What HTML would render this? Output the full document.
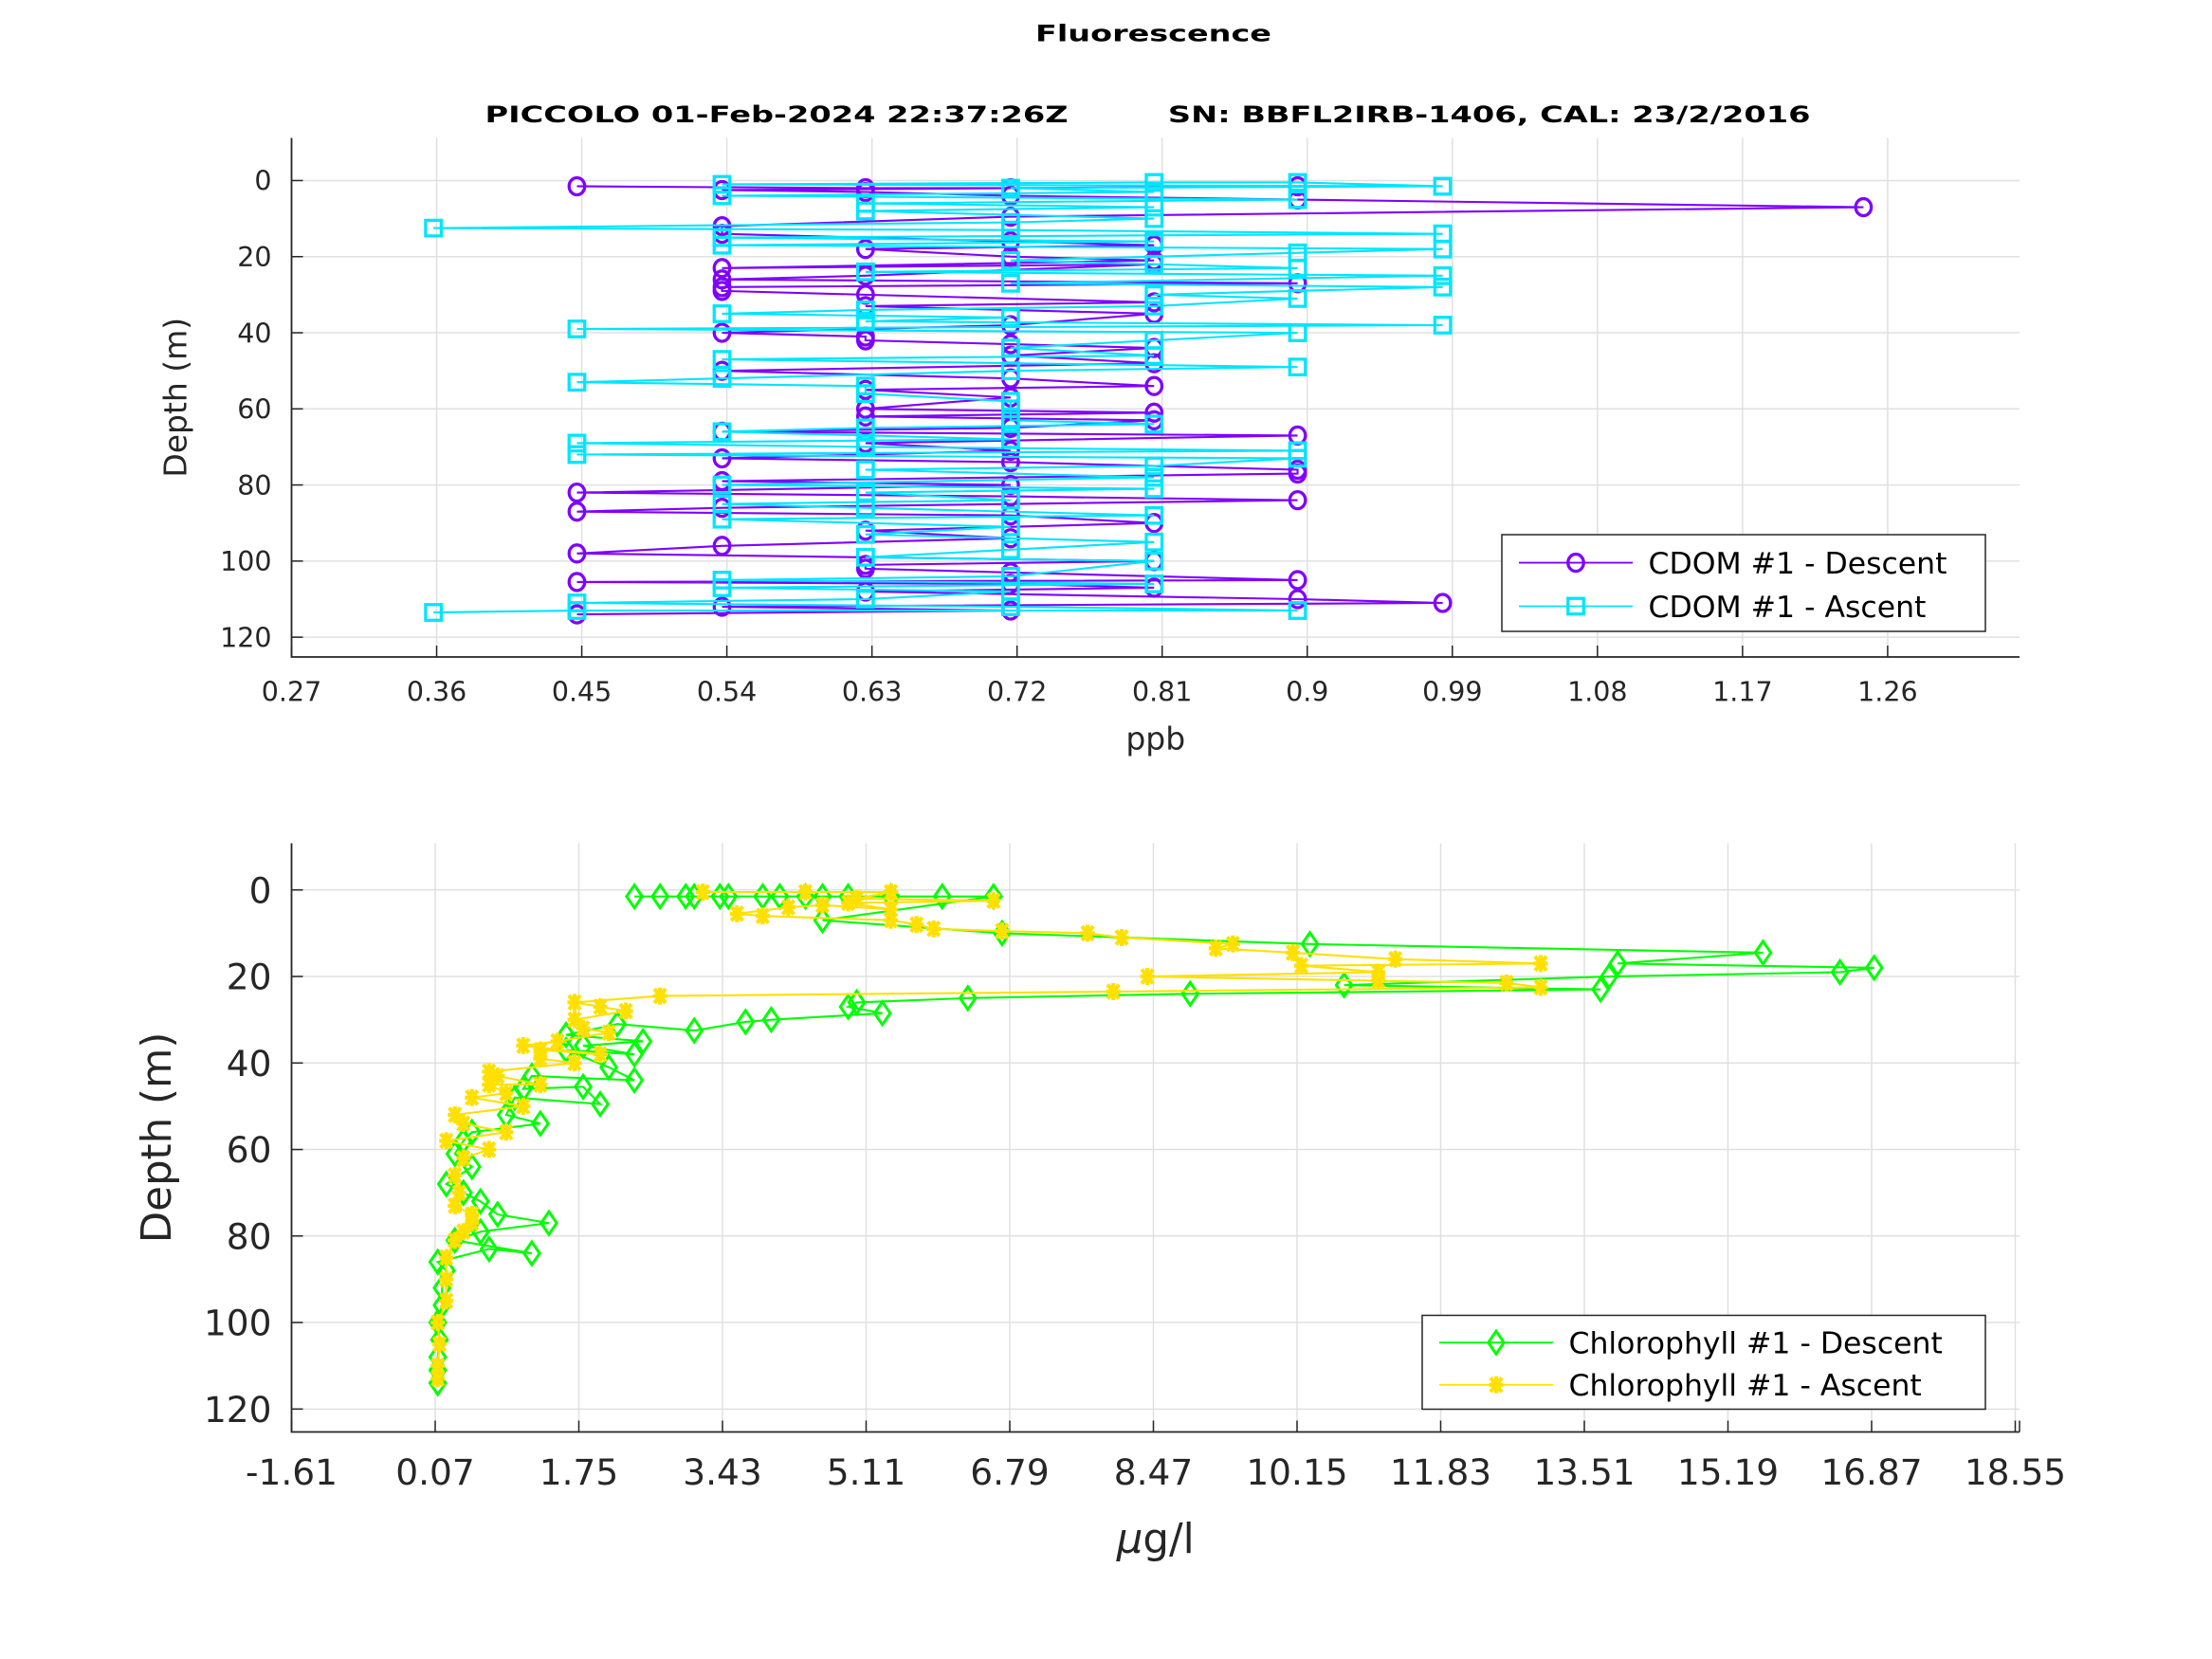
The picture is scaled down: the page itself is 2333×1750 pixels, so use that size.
<!DOCTYPE html>
<html><head><meta charset="utf-8"><style>
html,body{margin:0;padding:0;background:#fff}
svg{display:block;font-family:"DejaVu Sans","Liberation Sans",sans-serif}
</style></head><body>
<svg id="fig" width="2333" height="1750" viewBox="0 0 1555.33 1166.67" xmlns="http://www.w3.org/2000/svg">
<rect width="1555.33" height="1166.67" fill="#fff"/>
<text x="811" y="29" text-anchor="middle" font-size="16" font-weight="bold" textLength="166" lengthAdjust="spacingAndGlyphs">Fluorescence</text>
<text x="341" y="86" font-size="16" font-weight="bold" xml:space="preserve" textLength="932" lengthAdjust="spacingAndGlyphs">PICCOLO 01-Feb-2024 22:37:26Z         SN: BBFL2IRB-1406, CAL: 23/2/2016</text>
<g id="topchart"></g>
<g id="botchart"></g>
</svg>
<script>
// CDOM data (depth m, ppb)
const cdomDescDepth=[1.5,2,2,1.5,2.5,3,4,5,7,9.5,12,14,16,17,18,20,21,23,22,25,26,27,28,29,30,32,33,35,38,40,41,42,43,44,46,48,50,52,54,55,57,60,61,62,63,65,66,67,69,71,73,74,76,77,79,80,82,83,84,86,87,88,90,92,94,96,98,100,101,102,103,105,105.5,106,107,108,110,111,112,113,114];
const cdomDescVal=[0.447,0.626,0.716,0.894,0.537,0.626,0.716,0.894,1.245,0.716,0.537,0.537,0.716,0.805,0.626,0.716,0.805,0.537,0.805,0.626,0.537,0.894,0.537,0.537,0.626,0.805,0.626,0.805,0.716,0.537,0.626,0.626,0.716,0.805,0.716,0.805,0.537,0.716,0.805,0.626,0.716,0.626,0.805,0.626,0.805,0.716,0.537,0.894,0.626,0.716,0.537,0.716,0.894,0.894,0.537,0.716,0.447,0.716,0.894,0.537,0.447,0.716,0.805,0.626,0.716,0.537,0.447,0.805,0.626,0.626,0.716,0.894,0.447,0.716,0.805,0.626,0.894,0.984,0.537,0.716,0.447];
const cdomAscDepth=[113.5,113,113,112,111,110,108,107,106,105,104,100,99,97,95,93,91,89,88,86,85,84,82,81,80,78,76,75,73,72,71,70,69,68,66,65,64,63,60,58,56,54,53,52,50,49,47,46,44,42,40,39,38,37,36,35,34,33,31,30,28,27,25,24,23,22,21,19,18,17,16,15,14,13,12.5,11,10,8,7,6,5,4,3,2,1.5,1,0.5,0.5,1.5];
const cdomAscVal=[0.358,0.447,0.894,0.716,0.447,0.626,0.716,0.537,0.805,0.537,0.716,0.805,0.626,0.716,0.805,0.626,0.716,0.537,0.805,0.626,0.537,0.716,0.626,0.805,0.537,0.805,0.626,0.805,0.894,0.447,0.894,0.626,0.447,0.716,0.537,0.626,0.805,0.716,0.716,0.716,0.626,0.626,0.447,0.537,0.716,0.894,0.537,0.805,0.716,0.805,0.894,0.447,0.984,0.626,0.716,0.537,0.626,0.805,0.894,0.805,0.984,0.716,0.984,0.626,0.894,0.805,0.716,0.894,0.984,0.537,0.805,0.537,0.984,0.716,0.358,0.716,0.805,0.626,0.805,0.626,0.894,0.537,0.805,0.716,0.984,0.537,0.805,0.894,0.984];
const cdomXTicks=["0.27","0.36","0.45","0.54","0.63","0.72","0.81","0.9","0.99","1.08","1.17","1.26"];
// Chlorophyll data (depth m, ug/l)
const chlDescDepth=[1.5,1.5,1.5,1.5,1.5,1.5,1.5,1.5,1.5,1.5,1.5,1.5,1.5,1.5,7,10,12.5,14.5,17,18,19,20,22,23,24,25,26,27,28.5,30,30.5,32.5,31,33.5,35,36,38,37,41,44,43,46,45.5,49.5,48,52,54,56,58,61,64,68,70,72,75,77,79,81,84,83,86,88,92,96,100,104,108,111,114];
const chlDescVal=[2.4,2.7,3.0,3.1,3.4,3.5,3.9,4.1,4.4,4.6,4.9,5.4,6.0,6.6,4.6,6.7,10.3,15.6,13.9,16.9,16.5,13.8,10.7,13.7,8.9,6.3,5.0,4.9,5.3,4.0,3.7,3.1,2.2,1.6,2.5,1.8,2.4,1.6,2.1,2.4,1.2,1.1,1.8,2.0,1.0,0.9,1.3,0.5,0.4,0.3,0.5,0.2,0.4,0.6,0.8,1.4,0.6,0.3,1.2,0.7,0.1,0.2,0.15,0.15,0.1,0.12,0.1,0.1,0.1];
const chlAscDepth=[113,110,105,100,95,90,85,81,79,77,75,73,70,66,62,60,58,56,54,52,50,48,47,45,45,43,42,40,39,37,38,36,35,33,32,30,28,27,26,24.5,23.5,22.5,21.5,21,20,19,17.5,17,16,14.5,13.5,12.5,11,10,9.5,9,8,7,6,5.5,4,3.5,4.5,3,2.5,2,0.5,0.5,0.5];
const chlAscVal=[0.1,0.1,0.12,0.1,0.2,0.2,0.2,0.3,0.4,0.5,0.5,0.3,0.35,0.3,0.4,0.7,0.2,0.9,0.4,0.3,1.1,0.5,0.9,0.7,1.3,0.8,0.7,1.7,1.3,1.3,2.0,1.1,1.5,2.1,1.8,1.7,2.3,2.0,1.7,2.7,8.0,13.0,12.6,11.1,8.4,11.1,10.2,13.0,11.3,10.1,9.2,9.4,8.1,7.7,6.7,5.9,5.7,5.4,3.9,3.6,4.2,4.6,5.4,4.9,6.6,5.0,5.4,4.4,3.2];
const chlXTicks=["-1.61","0.07","1.75","3.43","5.11","6.79","8.47","10.15","11.83","13.51","15.19","16.87","18.55"];
const yTickVals=[0,20,40,60,80,100,120];

const NS="http://www.w3.org/2000/svg";
function mk(p,t,a){const e=document.createElementNS(NS,t);for(const k in a)e.setAttribute(k,a[k]);p.appendChild(e);return e;}

function axes(g,o){
  const X=v=>o.L+(v-o.x0)/(o.x1-o.x0)*(o.R-o.L);
  const Y=v=>o.T+(v-o.y0)/(o.y1-o.y0)*(o.B-o.T);
  o.xt.forEach(s=>{const x=X(parseFloat(s));
    const l=mk(g,'line',{x1:x,x2:x,y1:o.T,y2:o.B,stroke:'#e0e0e0','stroke-width':1});
    
    
    const tk=mk(g,'line',{x1:x,x2:x,y1:o.B,y2:o.B-8,stroke:'#262626','stroke-width':1});
    
    
    const t=mk(g,'text',{x:x,y:o.B+o.fs+12,'text-anchor':'middle','font-size':o.fs,fill:'#262626'});t.textContent=s;
    
    
  });
  yTickVals.forEach(v=>{const y=Y(v);
    const l=mk(g,'line',{x1:o.L,x2:o.R,y1:y,y2:y,stroke:'#e0e0e0','stroke-width':1});
    
    
    const tk=mk(g,'line',{x1:o.L,x2:o.L+8,y1:y,y2:y,stroke:'#262626','stroke-width':1});
    
    
    const t=mk(g,'text',{x:o.L-14,y:y+o.fs*0.36,'text-anchor':'end','font-size':o.fs,fill:'#262626'});t.textContent=v;
    
    
  });
  const ax=mk(g,'path',{d:`M${o.L},${o.T}V${o.B}H${o.R}`,fill:'none',stroke:'#262626','stroke-width':1.2});
  
  
  if(o.rtick){const r=mk(g,'line',{x1:o.R,x2:o.R,y1:o.B,y2:o.B-8,stroke:'#262626'});}
  const xl=mk(g,'text',{x:(o.L+o.R)/2,y:o.xly,'text-anchor':'middle','font-size':o.lfs,fill:'#262626'});xl.innerHTML=o.xlab;
  
  
  const yl=mk(g,'text',{x:0,y:0,transform:`translate(${o.ylx},${(o.T+o.B)/2}) rotate(-90)`,'text-anchor':'middle','font-size':o.lfs,fill:'#262626'});yl.textContent='Depth (m)';
  
  
  return {X,Y};
}
function marker(g,kind,x,y,c){
  let e;
  if(kind==='o')e=mk(g,'ellipse',{cx:x,cy:y,rx:5.5,ry:6,fill:'none',stroke:c,'stroke-width':2.2});
  else if(kind==='s')e=mk(g,'rect',{x:x-5.5,y:y-5.5,width:11,height:11,fill:'none',stroke:c,'stroke-width':2.2});
  else if(kind==='d')e=mk(g,'path',{d:`M${x},${y-8}L${x+5.5},${y}L${x},${y+8}L${x-5.5},${y}Z`,fill:'none',stroke:c,'stroke-width':2});
  else e=mk(g,'path',{d:`M${x-5},${y}H${x+5}M${x},${y-6}V${y+6}M${x-4},${y-5}L${x+4},${y+5}M${x+4},${y-5}L${x-4},${y+5}`,fill:'none',stroke:c,'stroke-width':2.8});
  return e;
}
function series(g,S,dep,val,c,kind,name){
  const sg=mk(g,'g',{});
  
  
  const d=dep.map((v,i)=>(i?'L':'M')+S.X(val[i]).toFixed(2)+','+S.Y(v).toFixed(2)).join('');
  const p=mk(sg,'path',{d:d,fill:'none',stroke:c,'stroke-width':1.4});
  
  
  dep.forEach((v,i)=>{const m=marker(sg,kind,S.X(val[i]),S.Y(v),c);
    
    });
}
function legend(g,x,y,w,h,items,fs){
  const lg=mk(g,'g',{});
  
  
  mk(lg,'rect',{x:x,y:y,width:w,height:h,fill:'#fff',stroke:'#262626','stroke-width':1});
  items.forEach((it,i)=>{const yy=y+h*(0.29+0.45*i);
    const e=mk(lg,'g',{});
    
    
    mk(e,'line',{x1:x+12,x2:x+92,y1:yy,y2:yy,stroke:it.c,'stroke-width':1.2});
    marker(e,it.k,x+52,yy,it.c);
    const t=mk(e,'text',{x:x+103,y:yy+fs*0.36,'font-size':fs,fill:'#000'});t.textContent=it.t;
  });
}
const gTop=document.getElementById('topchart');
const S1=axes(gTop,{L:205,R:1420,T:97,B:462,x0:0.27,x1:1.3418,y0:-11.2,y1:125.2,xt:cdomXTicks,fs:19,lfs:22,xlab:'ppb',xly:527,ylx:131});
series(gTop,S1,cdomDescDepth,cdomDescVal,'#7f00ff','o','cdom-descent');
series(gTop,S1,cdomAscDepth,cdomAscVal,'#00e5ff','s','cdom-ascent');
legend(gTop,1056,376,340,68,[{c:'#7f00ff',k:'o',t:'CDOM #1 - Descent'},{c:'#00e5ff',k:'s',t:'CDOM #1 - Ascent'}],21);
const gBot=document.getElementById('botchart');
const S2=axes(gBot,{L:205,R:1420,T:593,B:1007,x0:-1.61,x1:18.6,y0:-10.8,y1:125.3,xt:chlXTicks,fs:25,lfs:29,xlab:'<tspan font-style="italic">μ</tspan>g/l',xly:1092,ylx:120,rtick:true});
series(gBot,S2,chlDescDepth,chlDescVal,'#00ff00','d','chlorophyll-descent');
series(gBot,S2,chlAscDepth,chlAscVal,'#ffe000','*','chlorophyll-ascent');
legend(gBot,1000,925,396,66,[{c:'#00ff00',k:'d',t:'Chlorophyll #1 - Descent'},{c:'#ffe000',k:'*',t:'Chlorophyll #1 - Ascent'}],21);
</script>
</body></html>
